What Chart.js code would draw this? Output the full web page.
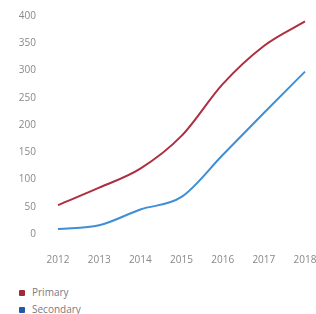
<!DOCTYPE html>
<html>
<head>
<meta charset="utf-8">
<script src="https://cdn.jsdelivr.net/npm/chart.js@4/dist/chart.umd.min.js"></script>
<style>
    html, body { margin: 0; padding: 0; background: #fff; }
    #wrap { position: relative; width: 316px; height: 314px; overflow: hidden; }
    #legend { position: absolute; left: 19px; top: 284px; font-family: "Open Sans", sans-serif; font-size: 10px; color: #7a7a80; }
    .item { height: 17px; line-height: 13px; display: flex; align-items: center; }
    .box { width: 6px; height: 6px; border-radius: 1px; margin-right: 7px; }
</style>
</head>
<body>
<div id="wrap">
    <canvas id="chart" width="316" height="270"></canvas>
    <div id="legend"></div>
</div>
<script>
const years = ['2012', '2013', '2014', '2015', '2016', '2017', '2018'];
const primary = [53, 85, 120, 180, 275, 345, 390];
const secondary = [9, 16, 45, 68, 145, 222, 298];
const yTicks = [0, 50, 100, 150, 200, 250, 300, 350, 400];

const series = [
    { label: 'Primary', data: primary, line: '#ad2f40', box: '#9e2a3a' },
    { label: 'Secondary', data: secondary, line: '#3f8ed6', box: '#2458a8' }
];

const ctx = document.getElementById('chart').getContext('2d');
new Chart(ctx, {
    type: 'line',
    data: {
        labels: years,
        datasets: series.map(s => ({
            label: s.label,
            data: s.data,
            borderColor: s.line,
            borderWidth: 2,
            pointRadius: 0,
            tension: 0.4,
            cubicInterpolationMode: 'monotone',
            fill: false
        }))
    },
    options: {
        responsive: false,
        animation: false,
        layout: { padding: { top: 16, right: 0, bottom: 4, left: 0 } },
        plugins: { legend: { display: false }, tooltip: { enabled: false } },
        scales: {
            x: {
                afterFit: axis => {
                    axis.height = 32;
                    axis.paddingRight = 11;
                },
                grid: { display: false, drawTicks: false },
                border: { display: false },
                ticks: {
                    color: '#888',
                    font: { family: 'Open Sans', size: 10 },
                    padding: 20,
                    maxRotation: 0,
                    autoSkip: false
                }
            },
            y: {
                min: 0,
                max: 400,
                afterBuildTicks: axis => { axis.ticks = yTicks.map(v => ({ value: v })); },
                afterFit: axis => {
                    axis.width = 58;
                    // the tick padding is only meant to push labels left
                    axis.paddingTop = 0;
                    axis.paddingBottom = 0;
                },
                grid: { display: false, drawTicks: false },
                border: { display: false },
                ticks: {
                    color: '#888',
                    font: { family: 'Open Sans', size: 10 },
                    padding: 22
                }
            }
        }
    }
});

// legend below the chart
const legend = document.getElementById('legend');
series.forEach(s => {
    const item = document.createElement('div');
    item.className = 'item';
    item.innerHTML = '<span class="box" style="background:' + s.box + '"></span>' + s.label;
    legend.appendChild(item);
});
</script>
</body>
</html>
